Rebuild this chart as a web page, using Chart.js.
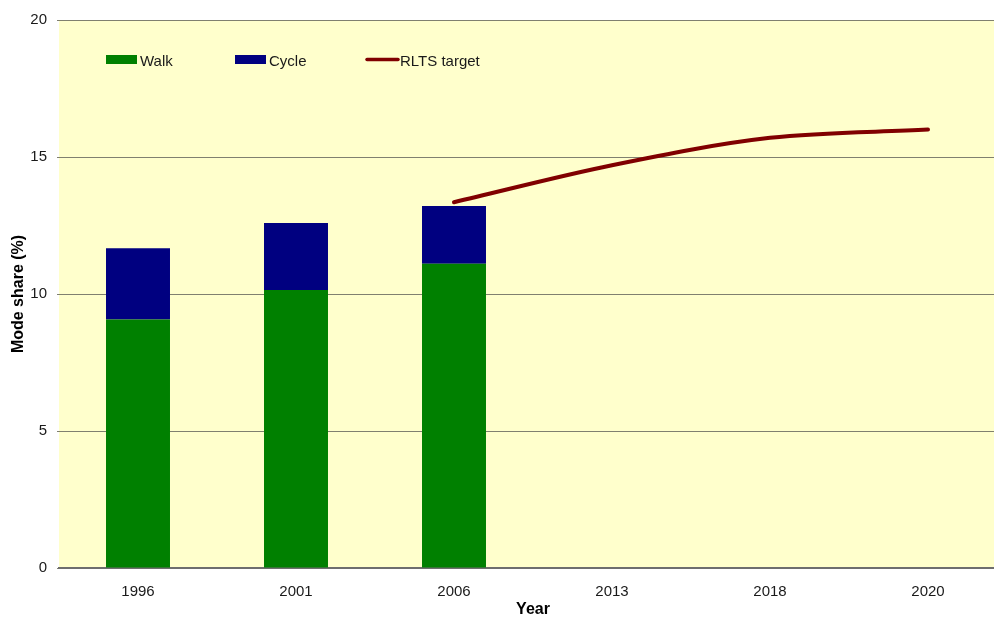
<!DOCTYPE html>
<html><head><meta charset="utf-8">
<script src="https://cdn.jsdelivr.net/npm/chart.js@4"></script>
<style>html,body{margin:0;padding:0;overflow:hidden;background:#fff;}#wrap{width:1007px;height:617px;}</style>
</head><body><div id="wrap"><canvas id="c" width="1007" height="617"></canvas></div>
<script>
const years = ['1996','2001','2006','2013','2018','2020'];
const walk = [9.07, 10.15, 11.1, null, null, null];
const cycle = [2.6, 2.44, 2.11, null, null, null];
const rltsTarget = [null, null, 13.35, 14.7, 15.7, 16.0];
const yTicks = [0, 5, 10, 15, 20];

const FONT = 'Liberation Sans, Arial, sans-serif';

const bgPlugin = {
  id: 'bg',
  beforeDraw(chart) {
    const {ctx, chartArea: a} = chart;
    ctx.save();
    ctx.fillStyle = '#FFFFCC';
    ctx.fillRect(a.left, a.top, a.right - a.left, a.bottom - a.top);
    ctx.restore();
  }
};

const legendPlugin = {
  id: 'insideLegend',
  afterDraw(chart) {
    const ctx = chart.ctx;
    const ds = chart.data.datasets;
    const y = 60;
    const items = [
      {x: 106, ds: ds[0], type: 'box'},
      {x: 235, ds: ds[1], type: 'box'},
      {x: 366, ds: ds[2], type: 'line'}
    ];
    ctx.save();
    ctx.font = '15px ' + FONT;
    ctx.textBaseline = 'middle';
    items.forEach(it => {
      if (it.type === 'box') {
        ctx.fillStyle = it.ds.backgroundColor;
        ctx.fillRect(it.x, y - 5, 31, 9);
      } else {
        ctx.strokeStyle = it.ds.borderColor;
        ctx.lineWidth = 3.5;
        ctx.lineCap = 'round';
        ctx.beginPath();
        ctx.moveTo(it.x + 1, y - 0.5);
        ctx.lineTo(it.x + 32, y - 0.5);
        ctx.stroke();
      }
      ctx.fillStyle = '#1a1a1a';
      ctx.fillText(it.ds.label, it.x + 34, y + 1.5);
    });
    ctx.restore();
  }
};

new Chart(document.getElementById('c'), {
  data: {
    labels: years,
    datasets: [
      {type: 'bar', label: 'Walk', data: walk, backgroundColor: '#008000', stack: 's', order: 2,
       categoryPercentage: 1.0, barPercentage: 0.405},
      {type: 'bar', label: 'Cycle', data: cycle, backgroundColor: '#000080', stack: 's', order: 2,
       categoryPercentage: 1.0, barPercentage: 0.405},
      {type: 'line', label: 'RLTS target', data: rltsTarget, borderColor: '#800000', borderWidth: 4,
       pointRadius: 0, cubicInterpolationMode: 'monotone', borderCapStyle: 'round', order: 1, spanGaps: false}
    ]
  },
  options: {
    responsive: false,
    animation: false,
    layout: {padding: {left: 0, top: 20, right: 0, bottom: 0}},
    plugins: {legend: {display: false}, tooltip: {enabled: false}},
    scales: {
      x: {
        stacked: true,
        offset: true,
        grid: {display: false, drawTicks: false},
        border: {display: true, color: '#6e6e6e', width: 2},
        ticks: {color: '#1a1a1a', font: {family: FONT, size: 15}, padding: 15, maxRotation: 0},
        title: {display: true, text: 'Year', color: '#000', font: {family: FONT, size: 16, weight: 'bold'}, padding: {top: 0, bottom: -2}},
        afterFit(s) { s.height = 49; }
      },
      y: {
        stacked: true,
        min: 0, max: 20,
        afterBuildTicks(s) { s.ticks = yTicks.map(v => ({value: v})); },
        grid: {color: '#80806f', lineWidth: 1, drawTicks: true, tickLength: 2, tickColor: '#80806f'},
        border: {display: false},
        ticks: {color: '#1a1a1a', font: {family: FONT, size: 15}, padding: 10},
        title: {display: true, text: 'Mode share (%)', color: '#000', font: {family: FONT, size: 16, weight: 'bold'}, padding: {top: 9, bottom: 0}},
        afterFit(s) { s.width = 59; }
      }
    }
  },
  plugins: [bgPlugin, legendPlugin]
});
</script>
</body></html>
